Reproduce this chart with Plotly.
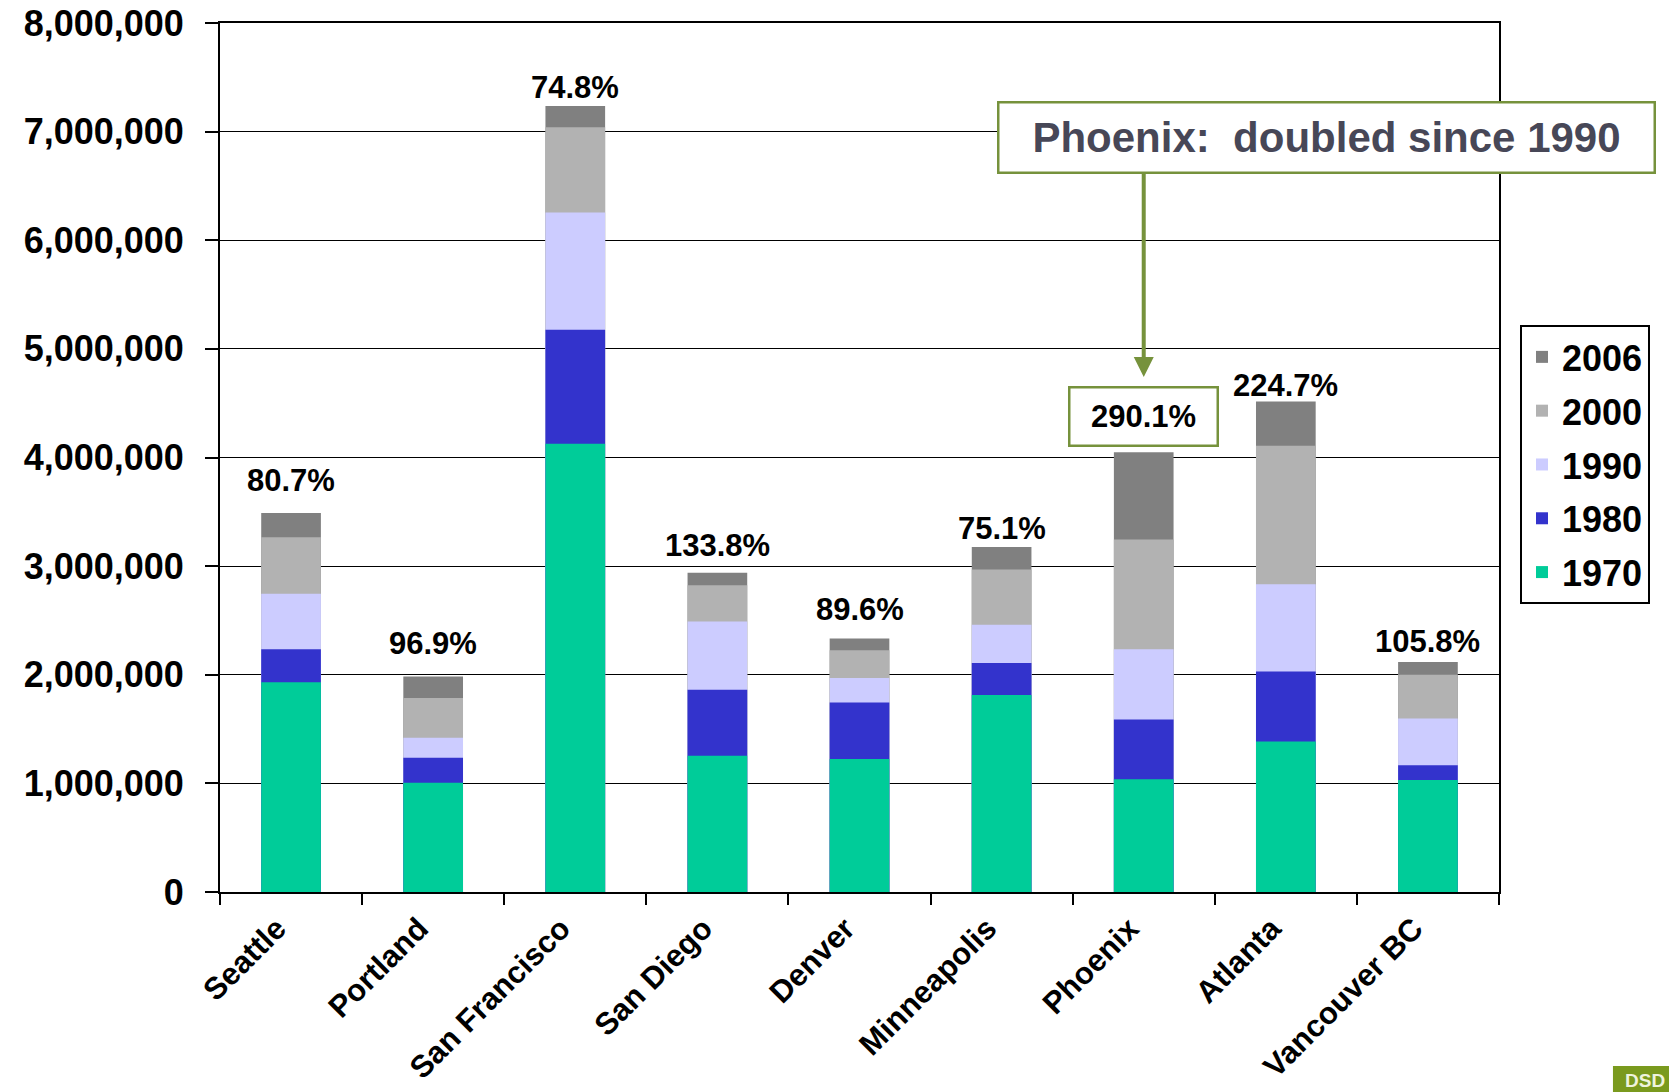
import plotly.graph_objects as go

# ---------------- data ----------------
cities = ["Seattle", "Portland", "San Francisco", "San Diego", "Denver",
          "Minneapolis", "Phoenix", "Atlanta", "Vancouver BC"]
pop_1970 = [1930000, 1005000, 4127000, 1255000, 1225000, 1814000, 1038000, 1385000, 1030000]
pop_1980 = [2235000, 1235000, 5176000, 1863000, 1745000, 2108000, 1588000, 2030000, 1167000]
pop_1990 = [2745000, 1420000, 6255000, 2490000, 1970000, 2460000, 2235000, 2833000, 1598000]
pop_2000 = [3265000, 1785000, 7040000, 2824000, 2225000, 2970000, 3245000, 4108000, 2000000]
pop_2006 = [3490000, 1985000, 7235000, 2940000, 2333000, 3176000, 4049000, 4515000, 2118000]
growth_labels = ["80.7%", "96.9%", "74.8%", "133.8%", "89.6%", "75.1%", "290.1%", "224.7%", "105.8%"]
years = ["2006", "2000", "1990", "1980", "1970"]
series = [pop_2006, pop_2000, pop_1990, pop_1980, pop_1970]
y_ticks = [0, 1000000, 2000000, 3000000, 4000000, 5000000, 6000000, 7000000, 8000000]
callout_text = "Phoenix:&nbsp; doubled since 1990"

# ---------------- styles ----------------
colors = {"2006": "#808080", "2000": "#B2B2B2", "1990": "#CCCCFF",
          "1980": "#3333CC", "1970": "#00CC99"}
label_lift = [32, 33, 19, 27, 29, 19, 36, 16, 20]   # px above bar top
olive = "#76923C"
FONT = "Liberation Sans, Arial, sans-serif"

fig = go.Figure()
for yr, vals in zip(years, series):
    fig.add_trace(go.Bar(
        x=cities, y=vals, name=yr, legendgroup=yr,
        marker=dict(color=colors[yr], line=dict(width=0)),
    ))

annotations = []
for i, c in enumerate(cities):
    a = dict(x=c, y=pop_2006[i], xref="x", yref="y", text=growth_labels[i],
             showarrow=False, yshift=label_lift[i], yanchor="middle", xanchor="center",
             font=dict(family=FONT, size=31, color="black", weight="bold"))
    if c == "Phoenix":
        a.update(bordercolor=olive, borderwidth=2.5, bgcolor="white",
                 width=142, height=52, borderpad=2)
    annotations.append(a)

# arrow from callout to Phoenix label
annotations.append(dict(x="Phoenix", y=4740000, xref="x", yref="y", text="",
                        showarrow=True, ax=0, ay=-205, axref="pixel", ayref="pixel",
                        arrowcolor=olive, arrowwidth=4, arrowhead=2, arrowsize=1))
# callout box
annotations.append(dict(x=0.865, y=0.8688, xref="paper", yref="paper",
                        xanchor="center", yanchor="middle",
                        text=callout_text, showarrow=False,
                        font=dict(family=FONT, size=42, color="#474757", weight="bold"),
                        bordercolor=olive, borderwidth=2.5, bgcolor="white",
                        width=648, height=62, borderpad=3))
# logo fragment
annotations.append(dict(x=1.0970, y=-0.2025, xref="paper", yref="paper",
                        text="DSD", showarrow=False, xanchor="left", yanchor="top",
                        font=dict(family=FONT, size=19, color="#EEF3DD", weight="bold")))

fig.update_layout(
    width=1669, height=1092,
    margin=dict(l=220, r=170, t=23, b=200, autoexpand=False),
    plot_bgcolor="white", paper_bgcolor="white",
    barmode="overlay", bargap=0.58,
    font=dict(family=FONT, color="black"),
    annotations=annotations,
    shapes=[dict(type="rect", xref="paper", yref="paper",
                 x0=1.0891, x1=1.15, y0=-0.235, y1=-0.2002,
                 fillcolor="#7A9A1E", line=dict(width=0), layer="below")],
    legend=dict(x=1.0164, y=0.6525, xanchor="left", yanchor="top",
                bordercolor="black", borderwidth=2, bgcolor="white",
                font=dict(family=FONT, size=36, color="black", weight="bold"),
                traceorder="grouped", tracegroupgap=4),
    showlegend=True,
)
fig.update_xaxes(
    type="category", tickangle=-45, tickson="boundaries",
    ticks="outside", ticklen=11, tickwidth=1.5, tickcolor="black",
    showline=True, linecolor="black", linewidth=2, mirror=True,
    tickfont=dict(family=FONT, size=31, color="black", weight="bold"),
    ticklabelshift=-14, ticklabelstandoff=4,
    showgrid=False, automargin=False,
)
fig.update_yaxes(
    range=[0, 8000000], tickvals=y_ticks, tickformat=",d",
    ticks="outside", ticklen=13, tickwidth=1.5, tickcolor="black",
    showline=True, linecolor="black", linewidth=2, mirror=True,
    showgrid=True, gridcolor="black", gridwidth=1.2,
    tickfont=dict(family=FONT, size=36, color="black", weight="bold"),
    ticklabelstandoff=14, zeroline=False, automargin=False,
)

fig.write_html("out.html")
